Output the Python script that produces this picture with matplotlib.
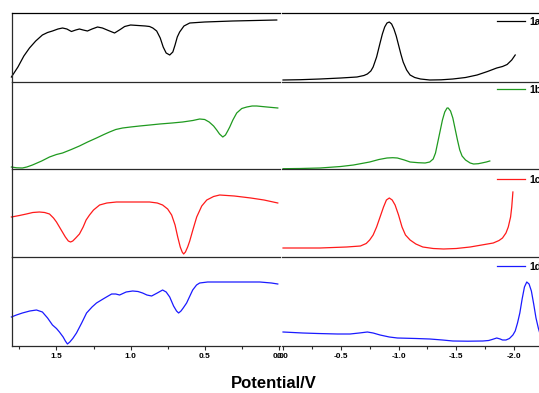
import matplotlib
matplotlib.use('Agg')
import matplotlib.pyplot as plt
from matplotlib.ticker import MultipleLocator

plt.rcParams['font.family'] = ['Liberation Sans', 'DejaVu Sans']
plt.rcParams['axes.unicode_minus'] = False

# ---- data (potential in V, signal in arbitrary units) ----
# left column: 1.8 -> 0.0 V
a_left_x = [1.804, 1.76, 1.72, 1.682, 1.64, 1.595, 1.56, 1.527, 1.49, 1.459, 1.43,
            1.399, 1.37, 1.345, 1.32, 1.291, 1.26, 1.223, 1.19, 1.15, 1.108, 1.07,
            1.04, 1.00, 0.95, 0.90, 0.872, 0.85, 0.824, 0.80, 0.78, 0.76, 0.736,
            0.715, 0.70, 0.685, 0.669, 0.64, 0.601, 0.50, 0.311, 0.014]
a_left_y = [5, 15, 26, 34, 41, 47, 49.5, 51, 53, 54, 53, 50.5, 52, 53, 52, 51, 53,
            55, 54, 51.5, 49, 52.5, 55.5, 57, 56.5, 56, 55.5, 54, 51, 44, 35, 29,
            27, 30, 37, 45, 50, 56, 59, 60, 61, 62]

b_left_x = [1.804, 1.77, 1.730, 1.70, 1.662, 1.60, 1.547, 1.50, 1.459, 1.40, 1.345,
            1.29, 1.230, 1.18, 1.142, 1.10, 1.054, 1.00, 0.939, 0.87, 0.804, 0.72,
            0.649, 0.58, 0.534, 0.50, 0.47, 0.44, 0.419, 0.40, 0.378, 0.36, 0.345,
            0.331, 0.31, 0.284, 0.25, 0.216, 0.18, 0.149, 0.08, 0.007]
b_left_y = [2, 1.2, 1, 2, 4, 8, 12, 14.5, 16, 19.5, 23, 27, 31, 34.5, 37, 39.5, 41,
            42, 43, 44, 45, 46, 47, 48.5, 50, 49.5, 47, 43, 39, 35, 32, 34, 38, 42,
            49, 56, 60.5, 62, 63, 63, 62, 61]

c_left_x = [1.804, 1.75, 1.703, 1.66, 1.615, 1.58, 1.547, 1.52, 1.50, 1.480, 1.46,
            1.44, 1.42, 1.405, 1.39, 1.37, 1.345, 1.32, 1.30, 1.277, 1.25, 1.209,
            1.16, 1.095, 1.0, 0.872, 0.82, 0.784, 0.75, 0.723, 0.70, 0.682, 0.665,
            0.652, 0.642, 0.63, 0.615, 0.601, 0.58, 0.554, 0.52, 0.486, 0.44, 0.399,
            0.30, 0.189, 0.10, 0.007]
c_left_y = [40, 41.5, 43, 44.5, 45, 44.5, 43, 39, 35, 30, 25, 20, 16, 15, 16, 19,
            23, 30, 37, 42, 47, 52, 54, 55, 55, 55, 54, 52, 48, 42, 32, 20, 10, 5,
            3, 5, 10, 16, 27, 40, 51, 57, 60.5, 62, 61, 59, 57, 54]

d_left_x = [1.804, 1.77, 1.730, 1.68, 1.635, 1.595, 1.56, 1.527, 1.50, 1.480, 1.455,
            1.44, 1.426, 1.41, 1.39, 1.365, 1.33, 1.297, 1.26, 1.230, 1.18, 1.128,
            1.10, 1.074, 1.03, 0.986, 0.95, 0.919, 0.89, 0.858, 0.82, 0.784, 0.76,
            0.736, 0.71, 0.69, 0.676, 0.66, 0.645, 0.622, 0.60, 0.581, 0.555, 0.534,
            0.48, 0.419, 0.30, 0.128, 0.05, 0.007]
d_left_y = [29, 31, 33, 35, 36, 34, 28, 21, 17.5, 14, 9, 5, 2, 4, 7.5, 13, 23, 33,
            39, 43, 47.5, 52, 52, 51, 54, 55, 54.5, 53, 51, 50, 53, 56, 54, 49, 40,
            35, 33, 35, 38, 43, 50, 56, 61, 63, 64, 64, 64, 64, 63, 62]

# right column: 0.0 -> -2.2 V
a_right_x = [0.0, -0.15, -0.32, -0.50, -0.64, -0.70, -0.73, -0.76, -0.78, -0.81,
             -0.84, -0.86, -0.88, -0.90, -0.92, -0.94, -0.96, -0.98, -1.00, -1.02,
             -1.04, -1.07, -1.10, -1.14, -1.19, -1.27, -1.37, -1.47, -1.58, -1.68,
             -1.77, -1.85, -1.90, -1.94, -1.98, -2.01]
a_right_y = [2, 2.3, 3, 4, 5, 6.5, 8, 11, 15, 25, 39, 48, 55, 59, 60, 58, 53, 46, 37,
             28, 20, 12, 7, 4.5, 3, 2, 2.2, 3, 4.5, 7, 10.5, 14, 15.5, 17.5, 22, 27]

b_right_x = [0.0, -0.15, -0.32, -0.50, -0.61, -0.68, -0.75, -0.83, -0.90, -0.95,
             -0.99, -1.05, -1.10, -1.17, -1.23, -1.27, -1.30, -1.32, -1.34, -1.36,
             -1.38, -1.40, -1.42, -1.43, -1.45, -1.47, -1.49, -1.51, -1.53, -1.55,
             -1.58, -1.62, -1.65, -1.69, -1.72, -1.76, -1.79]
b_right_y = [0.3, 0.5, 1, 2.5, 4, 5.5, 7, 9.5, 11, 11.3, 11, 9, 7, 6.3, 6, 7, 10, 16,
             27, 38, 49, 57, 61, 61, 58, 51, 40, 29, 19, 13, 9, 6, 5, 5.3, 6, 7, 8]

c_right_x = [0.0, -0.32, -0.55, -0.67, -0.72, -0.75, -0.78, -0.81, -0.84, -0.87,
             -0.895, -0.92, -0.945, -0.97, -1.00, -1.03, -1.06, -1.10, -1.15, -1.21,
             -1.30, -1.39, -1.50, -1.62, -1.72, -1.82, -1.87, -1.90, -1.93, -1.95,
             -1.97, -1.98, -1.99]
c_right_y = [9, 9, 10, 11, 13.5, 17, 22, 30, 40, 50, 57, 59, 57, 52, 42, 30, 22, 17,
             13, 10, 8.5, 8, 8.5, 10, 12, 14, 16.5, 19, 24, 30, 40, 50, 65]

d_right_x = [0.0, -0.17, -0.30, -0.47, -0.58, -0.66, -0.73, -0.78, -0.84, -0.92,
             -0.99, -1.15, -1.27, -1.38, -1.47, -1.60, -1.73, -1.78, -1.81, -1.85,
             -1.88, -1.90, -1.93, -1.96, -1.99, -2.01, -2.03, -2.05, -2.07, -2.09,
             -2.11, -2.13, -2.15, -2.17, -2.19, -2.21, -2.22]
d_right_y = [14, 13, 12.5, 12, 12, 13, 14, 13, 11, 9, 8, 7.5, 7, 6, 5, 4.8, 5, 5.5,
             6.5, 8, 7, 6, 6, 7.5, 11, 15, 23, 33, 47, 59, 64, 62, 55, 42, 28, 18, 14]

labels = ['1a', '1b', '1c', '1d']
colors = ['black', '#1f9a1f', '#ff1a1a', '#1a1aff']
left_x = [a_left_x, b_left_x, c_left_x, d_left_x]
left_y = [a_left_y, b_left_y, c_left_y, d_left_y]
right_x = [a_right_x, b_right_x, c_right_x, d_right_x]
right_y = [a_right_y, b_right_y, c_right_y, d_right_y]

W, H = 539, 393
fig = plt.figure(figsize=(W / 100, H / 100), dpi=100)

# row extents in pixels (top, bottom)
rows = [(13, 82), (82, 169), (169, 257), (257, 346)]
legend_tops = [17, 85, 175, 262]
spine_col = '#2a2a2a'

for i, (top, bot) in enumerate(rows):
    b = 1 - bot / H
    h = (bot - top) / H
    axl = fig.add_axes([12 / W, b, 268 / W, h])
    axr = fig.add_axes([282 / W, b, (W - 282) / W, h])

    axl.plot(left_x[i], left_y[i], color=colors[i], lw=0.9, clip_on=False)
    axr.plot(right_x[i], right_y[i], color=colors[i], lw=0.9, label=labels[i])

    axl.set_xlim(1.80, -0.008)
    axr.set_xlim(0.009, -2.216)
    for ax in (axl, axr):
        ax.patch.set_visible(False)
        ax.set_ylim(0, bot - top)
        ax.set_yticks([])
        ax.spines['right'].set_visible(False)
        for s in ax.spines.values():
            s.set_color(spine_col)
            s.set_linewidth(0.9)
        if i == 0:
            ax.spines['top'].set_color('black')
        else:
            ax.spines['top'].set_visible(False)
    axr.spines['left'].set_visible(False)

    if i < 3:
        axl.set_xticks([])
        axr.set_xticks([])
    else:
        for ax in (axl, axr):
            ax.xaxis.set_major_locator(MultipleLocator(0.5))
            ax.xaxis.set_minor_locator(MultipleLocator(0.25))
            ax.tick_params(axis='x', which='major', direction='out', length=3,
                           width=0.8, pad=2, labelsize=6, colors=spine_col)
            ax.tick_params(axis='x', which='minor', direction='out', length=2, width=0.8,
                           colors=spine_col)
            for t in ax.get_xticklabels():
                t.set_fontweight('bold')
                t.set_color('black')

    axr.legend(loc='upper left', bbox_to_anchor=(497 / W, 1 - legend_tops[i] / H),
               bbox_transform=fig.transFigure, frameon=False, borderpad=0,
               borderaxespad=0, handlelength=2.7, handletextpad=0.4,
               prop={'weight': 'bold', 'size': 7.5})

fig.text(274 / W, 1 - 383 / H, 'Potential/V', ha='center', va='center',
         fontsize=12, fontweight='bold')

fig.savefig('out.png', dpi=100)
